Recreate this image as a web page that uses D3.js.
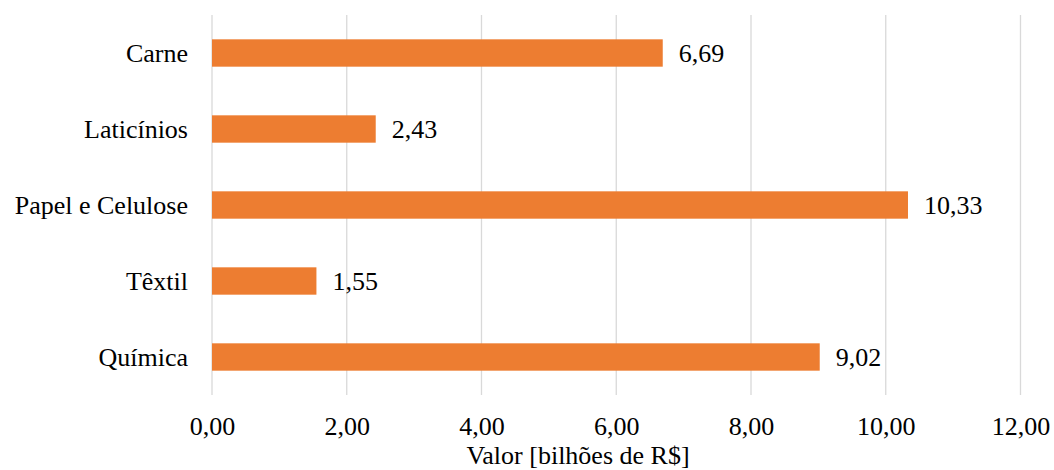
<!DOCTYPE html>
<html>
<head>
<meta charset="utf-8">
<script src="https://cdn.jsdelivr.net/npm/d3@7"></script>
<style>
  html, body { margin: 0; padding: 0; background: #fff; }
  svg { display: block; }
  text { font-family: "Times New Roman", "Liberation Serif", Tinos, "DejaVu Serif", serif; fill: #000; }
</style>
</head>
<body>
<svg id="chart" width="1054" height="470"></svg>
<script>
// Industrial sectors and their value (billions of R$)
const categories = ["Carne", "Laticínios", "Papel e Celulose", "Têxtil", "Química"];
const values = [6.69, 2.43, 10.33, 1.55, 9.02];
const xTicks = [0, 2, 4, 6, 8, 10, 12];
const xTitle = "Valor [bilhões de R$]";

const FONT = '"Times New Roman", "Liberation Serif", Tinos, "DejaVu Serif", serif';

const svg = d3.select("#chart");
const margin = { top: 15, left: 212, right: 1054 - 1020.5, bottom: 470 - 395 };
const plotW = 1054 - margin.left - margin.right;
const plotH = 470 - margin.top - margin.bottom;

const fmt = v => d3.format(".2f")(v).replace(".", ",");

const x = d3.scaleLinear().domain([0, 12]).range([0, plotW]);
const y = d3.scaleBand().domain(categories).range([0, plotH]).paddingInner(0.64).paddingOuter(0.32);

const g = svg.append("g").attr("transform", `translate(${margin.left},${margin.top})`);

// vertical gridlines
g.append("g")
  .selectAll("line")
  .data(xTicks)
  .join("line")
  .attr("x1", d => x(d)).attr("x2", d => x(d))
  .attr("y1", 0).attr("y2", plotH)
  .attr("stroke", "#d9d9d9")
  .attr("stroke-width", 1.3);

// x axis tick labels
const xAxis = d3.axisBottom(x).tickValues(xTicks).tickFormat(fmt).tickSize(0).tickPadding(0);
const xg = g.append("g").attr("transform", `translate(0,${plotH})`).call(xAxis);
xg.select(".domain").remove();
xg.attr("font-family", null).attr("font-size", null);
xg.selectAll("text")
  .attr("y", 40)
  .attr("dy", null)
  .style("font-family", FONT)
  .style("font-size", "26px")
  .attr("fill", "#000");

// y axis category labels
const yAxis = d3.axisLeft(y).tickSize(0).tickPadding(24);
const yg = g.append("g").call(yAxis);
yg.select(".domain").remove();
yg.attr("font-family", null).attr("font-size", null);
yg.selectAll("text")
  .attr("dy", "0.34em")
  .style("font-family", FONT)
  .style("font-size", "26px")
  .attr("fill", "#000");

// bars
g.append("g")
  .selectAll("rect")
  .data(categories)
  .join("rect")
  .attr("x", x(0))
  .attr("y", d => y(d))
  .attr("width", (d, i) => x(values[i]) - x(0))
  .attr("height", y.bandwidth())
  .attr("fill", "#ED7D31");

// value labels
g.append("g")
  .selectAll("text")
  .data(categories)
  .join("text")
  .attr("x", (d, i) => x(values[i]) + 16)
  .attr("y", d => y(d) + y.bandwidth() / 2)
  .attr("dy", "0.36em")
  .style("font-family", FONT)
  .style("font-size", "26px")
  .text((d, i) => fmt(values[i]));

// axis title
svg.append("text")
  .attr("x", 578)
  .attr("y", 464)
  .attr("text-anchor", "middle")
  .style("font-family", FONT)
  .style("font-size", "26px")
  .text(xTitle);
</script>
</body>
</html>
